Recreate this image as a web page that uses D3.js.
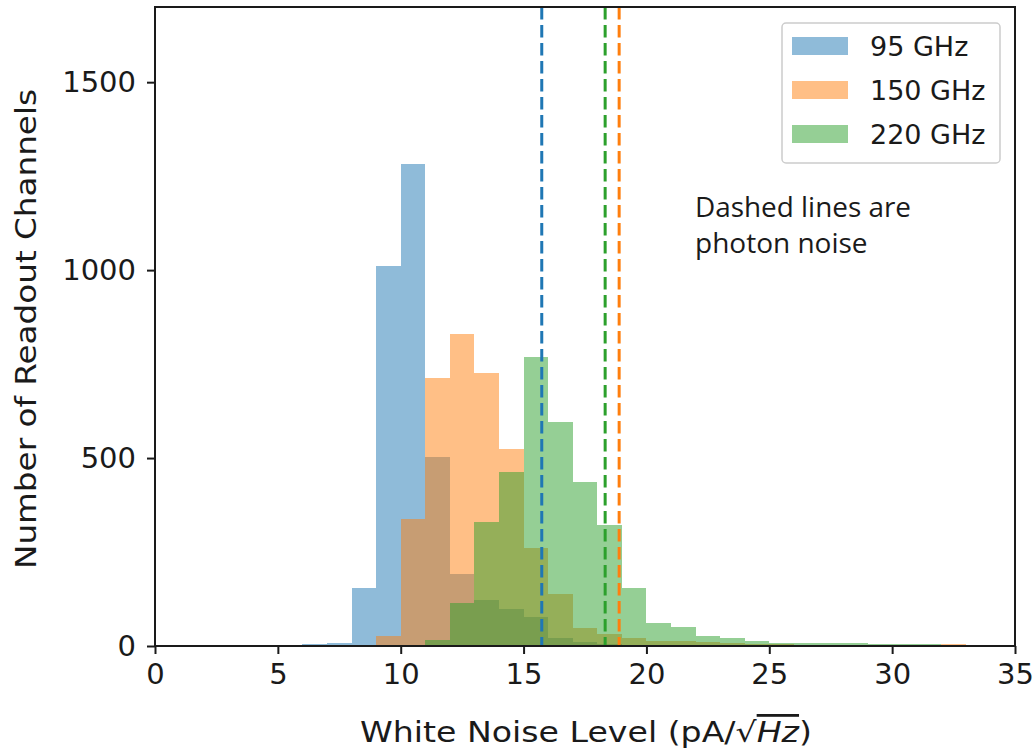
<!DOCTYPE html>
<html>
<head>
<meta charset="utf-8">
<script src="https://cdn.jsdelivr.net/npm/d3@7"></script>
<style>
  body { margin: 0; background: #fff; }
  text { font-family: "DejaVu Sans", sans-serif; fill: #1a1a1a; }
</style>
</head>
<body>
<svg id="svg" width="1035" height="750"></svg>
<script>
// histogram bins, 1 unit wide, left edge of each bin
var binLefts = [0,1,2,3,4,5,6,7,8,9,10,11,12,13,14,15,16,17,18,19,20,21,22,23,24,25,26,27,28,29,30,31,32,33,34];

var counts95  = [0,0,0,0,0,0,5,7,155,1010,1283,503,191,123,98,76,22,10,5,3,2,1,1,0,0,0,0,0,0,0,0,0,0,0,0];
var counts150 = [0,0,0,0,0,0,0,0,0,27,338,712,829,725,525,262,138,49,31,20,14,12,10,8,6,4,3,3,2,2,2,2,4,2,0];
var counts220 = [0,0,0,0,0,0,0,0,0,0,0,16,114,329,463,770,597,436,321,155,62,50,27,21,12,9,9,9,9,4,4,4,3,3,0];

var seriesNames = ["95 GHz", "150 GHz", "220 GHz"];
var seriesColors = ["#1f77b4", "#ff7f0e", "#2ca02c"];
var photonNoise = [15.74, 18.89, 18.32];

var xTicks = [0,5,10,15,20,25,30,35];
var yTicks = [0,500,1000,1500];

function drawChart(){
  var svg = d3.select("#svg");
  var pLeft = 155, pRight = 1015, pTop = 7, pBottom = 646;

  var x = d3.scaleLinear().domain([0,35]).range([pLeft,pRight]);
  var y = d3.scaleLinear().domain([0,1700]).range([pBottom,pTop]);

  var allCounts = [counts95, counts150, counts220];

  allCounts.forEach(function(cts, k){
    svg.append("g")
      .selectAll("rect")
      .data(binLefts.map(function(b,i){ return {x0:b, x1:b+1, n:cts[i]}; }).filter(d => d.n > 0))
      .enter().append("rect")
      .attr("x", d => x(d.x0))
      .attr("width", d => x(d.x1) - x(d.x0))
      .attr("y", d => y(d.n))
      .attr("height", d => y(0) - y(d.n))
      .attr("fill", seriesColors[k])
      .attr("fill-opacity", 0.5)
      .attr("shape-rendering", "crispEdges");
  });

  // photon noise lines
  svg.append("g").selectAll("line")
    .data(photonNoise)
    .enter().append("line")
    .attr("x1", d => x(d)).attr("x2", d => x(d))
    .attr("y1", y(1700)).attr("y2", y(0))
    .attr("stroke", (d,i) => seriesColors[i])
    .attr("stroke-width", 3)
    .attr("stroke-dasharray", "12.5,5.5");

  // axes
  var xAxis = d3.axisBottom(x).tickValues(xTicks).tickSize(8).tickPadding(9);
  var yAxis = d3.axisLeft(y).tickValues(yTicks).tickFormat(d3.format("d")).tickSize(8).tickPadding(11);

  var gx = svg.append("g").attr("transform", "translate(0," + pBottom + ")").call(xAxis);
  var gy = svg.append("g").attr("transform", "translate(" + pLeft + ",0)").call(yAxis);
  [gx, gy].forEach(function(g){
    g.select(".domain").remove();
    g.selectAll(".tick line").attr("stroke", "#1a1a1a").attr("stroke-width", 2);
    g.selectAll(".tick text").style("font-size", "29px").style("font-family", "DejaVu Sans").attr("fill", "#1a1a1a");
  });

  // frame
  svg.append("rect")
    .attr("x", pLeft).attr("y", pTop)
    .attr("width", pRight-pLeft).attr("height", pBottom-pTop)
    .attr("fill", "none").attr("stroke", "#1a1a1a").attr("stroke-width", 2);

  // axis labels
  var xl = svg.append("text")
    .attr("x", 360).attr("y", 742)
    .attr("textLength", 452)
    .attr("lengthAdjust", "spacingAndGlyphs")
    .style("font-size", "28px");
  xl.append("tspan").text("White Noise Level (pA/");
  xl.append("tspan").text("\u221A");
  xl.append("tspan").attr("font-style", "italic").attr("text-decoration", "overline").text("Hz");
  xl.append("tspan").text(")");

  svg.append("text")
    .attr("transform", "translate(36,329) rotate(-90)")
    .attr("text-anchor", "middle")
    .attr("textLength", 480)
    .attr("lengthAdjust", "spacingAndGlyphs")
    .style("font-size", "28px")
    .text("Number of Readout Channels");

  // legend
  var lg = svg.append("g");
  lg.append("rect")
    .attr("x", 782).attr("y", 23).attr("width", 218).attr("height", 140)
    .attr("rx", 4).attr("fill", "#fff").attr("fill-opacity", 0.8)
    .attr("stroke", "#ccc").attr("stroke-width", 1.5);
  var items = lg.selectAll("g.item").data(seriesNames).enter().append("g")
    .attr("class", "item")
    .attr("transform", (d,i) => "translate(792," + (46 + i*44) + ")");
  items.append("rect")
    .attr("x", 0).attr("y", -9).attr("width", 56).attr("height", 18)
    .attr("fill", (d,i) => seriesColors[i]).attr("fill-opacity", 0.5);
  items.append("text")
    .attr("x", 78).attr("y", 10)
    .style("font-size", "27px")
    .text(d => d);

  // annotation
  var note = svg.append("text")
    .attr("x", 695).attr("y", 217)
    .style("font-family", "'Open Sans', sans-serif")
    .style("font-size", "28px")
    .attr("fill", "#000");
  note.append("tspan").attr("x", 695).attr("textLength", 216).attr("lengthAdjust", "spacingAndGlyphs").text("Dashed lines are");
  note.append("tspan").attr("x", 695).attr("y", 253).text("photon noise");
}

drawChart();
</script>
</body>
</html>
